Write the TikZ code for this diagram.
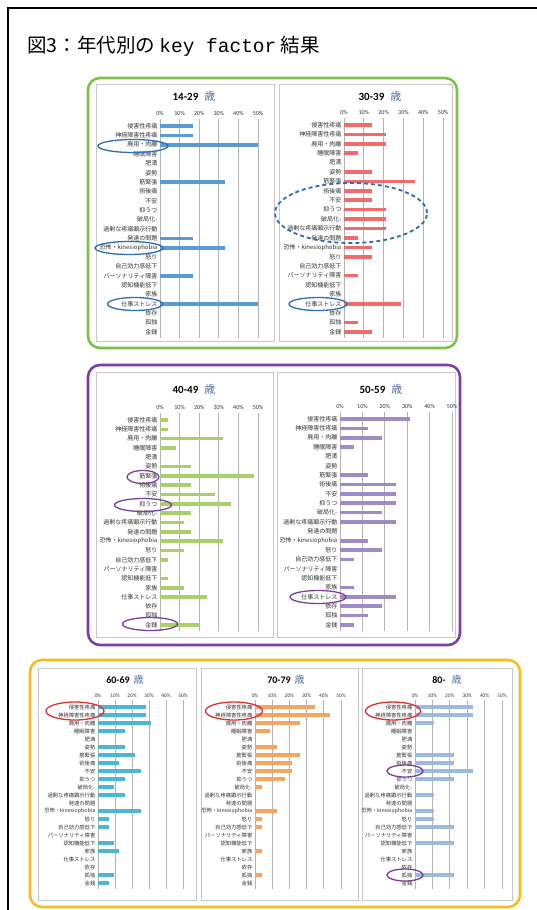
\documentclass[tikz,border=0pt]{standalone}
\usepackage{fontspec}
\usetikzlibrary{shapes.geometric}
\newfontfamily\jpfont{Noto Sans CJK JP}
\newfontfamily\carlito{Carlito}
\newfontfamily\kfmono{Liberation Mono}
\definecolor{gbox}{HTML}{7DC242}
\definecolor{pbox}{HTML}{7E3FA0}
\definecolor{ybox}{HTML}{F7BC1E}
\definecolor{cBlue}{HTML}{5B9BD5}
\definecolor{cRed}{HTML}{F06C6C}
\definecolor{cGreen}{HTML}{A9D06A}
\definecolor{cPurple}{HTML}{9E8BC8}
\definecolor{cCyan}{HTML}{4DB6D2}
\definecolor{cOrange}{HTML}{F5A461}
\definecolor{cLBlue}{HTML}{9DB9E2}
\definecolor{eBlue}{HTML}{2F6DB5}
\definecolor{ePurple}{HTML}{7B3F9E}
\definecolor{eRed}{HTML}{E0302F}
\definecolor{sai}{HTML}{4F6E9E}
\definecolor{gridc}{HTML}{B4B4B4}
\newcommand\kflabels{侵害性疼痛,神経障害性疼痛,廃用・肉離,睡眠障害,肥満,姿勢,筋緊張,術後痛,不安,抑うつ,破局化-,過剰な疼痛顕示行動,発達の問題,恐怖・kinesiophobia,怒り,自己効力感低下,パーソナリティ障害,認知機能低下,家族,仕事ストレス,依存,孤独,金銭}
% #1 name prefix, #2 x of 0%, #3 x of 50%, #4 y row1, #5 y row23, #6 colour, #7 values, #8 font size
\newcommand\kfchart[8]{%
  \pgfmathsetmacro\kfdy{(#5-#4)/22}%
  \pgfmathsetmacro\kfdx{(#3-#2)/5}%
  \foreach \k in {0,...,5}{%
    \draw[gridline] ({#2+\k*\kfdx},{#4-7}) -- ({#2+\k*\kfdx},{#5+6});
    \node[axlab,font=\carlito\fontsize{#8}{#8}\selectfont] (#1-ax\k) at ({#2+\k*\kfdx},{#4-2*#8-1}) {\ifnum\k=0 0\%\else\k0\%\fi};
  }%
  \foreach \lab [count=\i] in \kflabels {%
    \node[catlab,font=\jpfont\fontsize{#8}{#8}\selectfont] (#1-c\i) at ({#2-2.5},{#4+(\i-1)*\kfdy}) {\lab};
  }%
  \foreach \v [count=\i] in {#7} {%
    \fill[#6] ({#2},{#4+(\i-1)*\kfdy-1.8}) rectangle ({#2+\v*(#3-#2)/50},{#4+(\i-1)*\kfdy+1.8});
  }%
}
\begin{document}
\begin{tikzpicture}[x=1pt,y=-1pt,
  gridline/.style={draw=gridc,line width=0.8pt},
  axlab/.style={inner sep=0pt,text=black!80},
  catlab/.style={anchor=east,inner sep=0pt,text=black!80},
  panel/.style={draw=black!22,fill=white,line width=0.8pt},
  agebox/.style={line width=2.6pt,rounded corners=12pt},
  ctitle/.style={inner sep=0pt},
  ring/.style={ellipse,draw,line width=1.3pt,inner sep=0pt,fill=none}]
\useasboundingbox (0,0) rectangle (537,910);
\fill[white] (0,0) rectangle (537,910);
\draw[line width=1.1pt] (8,8) rectangle (560,930);
\node[anchor=west,inner sep=0pt] (title) at (27,46) {\jpfont\fontsize{19.5}{19.5}\selectfont 図3：年代別の {\kfmono key factor} 結果};

% boxes
\draw[agebox,gbox] (88,78) rectangle (457,348);
\draw[agebox,pbox] (88,365) rectangle (460,645);
\draw[agebox,ybox] (30,660) rectangle (520,907);

% panels
\draw[panel] (96,84) rectangle (274,341);
\draw[panel] (279,84) rectangle (452,341);
\draw[panel] (96,372) rectangle (273,637);
\draw[panel] (277,372) rectangle (455,637);
\draw[panel] (38,668) rectangle (196,900);
\draw[panel] (201,668) rectangle (358,900);
\draw[panel] (362,668) rectangle (512,900);

% titles
\node[ctitle] (t1) at (194,96) {\carlito\bfseries\fontsize{11}{11}\selectfont 14-29\hspace{6pt}{\jpfont\mdseries\color{sai}歳}};
\node[ctitle] (t2) at (380,96) {\carlito\bfseries\fontsize{11}{11}\selectfont 30-39\hspace{6pt}{\jpfont\mdseries\color{sai}歳}};
\node[ctitle] (t3) at (194,389) {\carlito\bfseries\fontsize{11}{11}\selectfont 40-49\hspace{6pt}{\jpfont\mdseries\color{sai}歳}};
\node[ctitle] (t4) at (381,389) {\carlito\bfseries\fontsize{11}{11}\selectfont 50-59\hspace{6pt}{\jpfont\mdseries\color{sai}歳}};
\node[ctitle] (t5) at (125,680) {\carlito\bfseries\fontsize{10}{10}\selectfont 60-69\hspace{4pt}{\jpfont\mdseries\color{sai}歳}};
\node[ctitle] (t6) at (286,680) {\carlito\bfseries\fontsize{10}{10}\selectfont 70-79\hspace{4pt}{\jpfont\mdseries\color{sai}歳}};
\node[ctitle] (t7) at (447,680) {\carlito\bfseries\fontsize{10}{10}\selectfont 80-\hspace{6pt}{\jpfont\mdseries\color{sai}歳}};

% charts
\kfchart{a}{160}{258}{126}{332}{cBlue}{16.7,16.7,50,0,0,0,33.3,0,0,0,0,0,16.7,33.3,0,0,16.7,0,0,50,0,0,0}{6}
\kfchart{b}{344}{443}{125}{332}{cRed}{14.3,21.4,21.4,7.1,0,14.3,35.7,14.3,14.3,21.4,21.4,21.4,7.1,14.3,14.3,0,7.1,0,0,28.6,0,7.1,14.3}{6}
\kfchart{c}{160}{258}{420}{625}{cGreen}{4,4,32,8,0,16,48,16,28,36,16,12,16,32,12,4,0,4,12,24,0,0,20}{6}
\kfchart{d}{340}{452}{419}{625}{cPurple}{31.25,12.5,18.75,6.25,0,0,12.5,25,25,25,18.75,25,0,12.5,18.75,6.25,0,0,6.25,25,18.75,12.5,6.25}{6}
\kfchart{e}{98}{183}{707}{883}{cCyan}{28.1,28.1,31.25,15.6,0,15.6,21.9,12.5,25,15.6,9.4,15.6,0,25,6.25,6.25,0,9.4,12.5,0,0,9.4,6.25}{5.3}
\kfchart{f}{255}{341}{707}{883}{cOrange}{34.8,43.5,26.1,8.7,0,13,26.1,21.7,21.7,17.4,4.3,0,0,13,4.3,4.3,0,0,4.3,0,0,4.3,0}{5.3}
\kfchart{g}{415}{502}{707}{883}{cLBlue}{33.3,33.3,11.1,0,0,0,22.2,22.2,33.3,22.2,0,11.1,0,11.1,11.1,22.2,0,22.2,0,0,0,22.2,0}{5.3}

% highlight rings
\node[ring,eBlue,minimum width=70pt,minimum height=13pt] (r1) at (133,146) {};
\node[ring,eBlue,minimum width=68pt,minimum height=13pt] (r2) at (129,248) {};
\node[ring,eBlue,minimum width=55pt,minimum height=13pt] (r3) at (135,304) {};
\node[ring,eBlue,minimum width=58pt,minimum height=13pt] (r4) at (318,304) {};
\node[ring,eBlue,line width=1.8pt,dash pattern=on 4pt off 3pt,minimum width=152pt,minimum height=60pt] (r5) at (351,213) {};
\node[ring,ePurple,minimum width=32pt,minimum height=13pt] (r6) at (143,477) {};
\node[ring,ePurple,minimum width=57pt,minimum height=13pt] (r7) at (143,505) {};
\node[ring,ePurple,minimum width=55pt,minimum height=13pt] (r8) at (150,624) {};
\node[ring,ePurple,minimum width=56pt,minimum height=13pt] (r9) at (318,597) {};
\node[ring,ePurple,minimum width=36pt,minimum height=12pt] (r10) at (405,771) {};
\node[ring,ePurple,minimum width=36pt,minimum height=12pt] (r11) at (405,875) {};
\node[ring,eRed,minimum width=58pt,minimum height=18pt] (r12) at (75,711) {};
\node[ring,eRed,minimum width=57pt,minimum height=18pt] (r13) at (234,711) {};
\node[ring,eRed,minimum width=55pt,minimum height=18pt] (r14) at (393,711) {};
\end{tikzpicture}
\end{document}
